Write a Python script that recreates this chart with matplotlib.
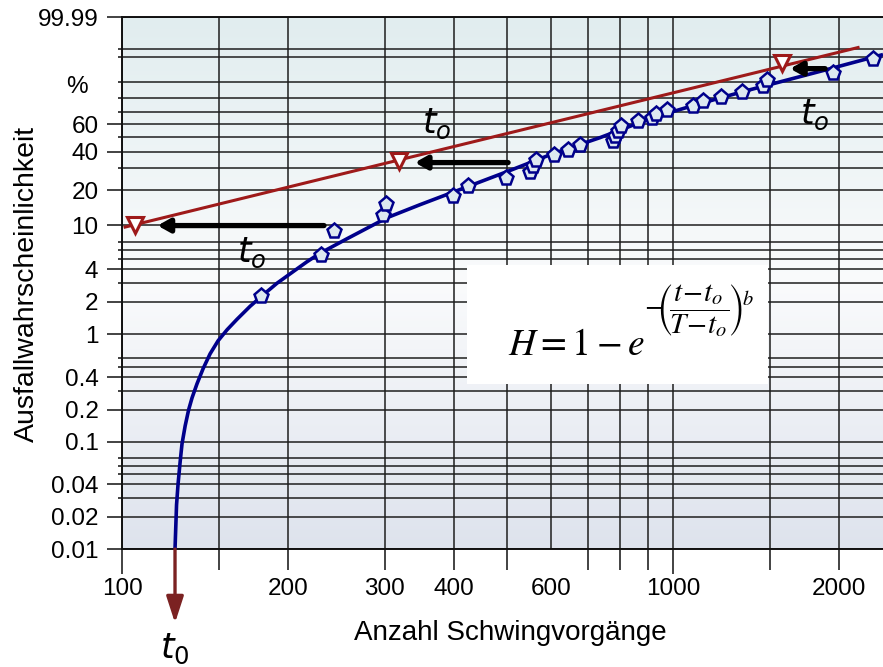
import numpy as np
import matplotlib
matplotlib.use("Agg")
import matplotlib.pyplot as plt
from matplotlib.ticker import FixedLocator, FixedFormatter, NullFormatter
from matplotlib.patches import Rectangle
from matplotlib.colors import LinearSegmentedColormap

# ---------------- data ----------------
# fitted 3-parameter Weibull curve (cycles, failure probability %)
curve_t = [124.8, 125.6, 126.4, 127.5, 128.5, 130.2, 132.1, 134.0, 136.8, 140.3,
           144.5, 149.4, 155.1, 161.7, 170.8, 180.5, 191.1, 204.3, 216.6, 228.8,
           256.1, 302.7, 347.4, 398.8, 499.7, 605.6, 737.1, 919.5, 1087, 1340,
           1903, 2405]
curve_F = [0.01, 0.0258, 0.0405, 0.065, 0.0956, 0.1407, 0.1985, 0.2569, 0.347,
           0.4789, 0.6605, 0.873, 1.104, 1.382, 1.823, 2.330, 2.973, 3.790, 4.677,
           5.591, 7.556, 11.61, 15.06, 19.23, 28.25, 38.66, 49.82, 65.36, 74.65,
           84.35, 94.91, 98.36]

# observed failures
obs_t = [179, 230, 243, 298, 301, 399, 425, 498, 550, 556, 564, 607, 644, 678,
         779, 785, 796, 804, 865, 915, 930, 977, 1089, 1132, 1221, 1333, 1457,
         1479, 1954, 2309]
obs_F = [2.25, 5.42, 8.78, 12.34, 15.36, 17.97, 21.78, 25.17, 27.89, 31.07,
         34.93, 38.02, 40.83, 44.75, 47.11, 50.80, 54.60, 58.49, 62.43, 65.13,
         68.51, 71.08, 74.65, 77.81, 80.89, 83.91, 87.71, 90.70, 93.75, 97.64]

# shifted (two-parameter) straight line and shifted points
red_t = [101.3, 2167]
red_F = [9.6, 99.16]
tri_t = [105.6, 318.6, 1575]
tri_F = [10.0, 33.9, 96.8]

# shift arrows
arrow_tail_t = [232.6, 502, 1888]
arrow_head_t = [116, 340, 1631]
arrow_F = [9.9, 33.2, 95.2]

# "t_o" annotations
to_label_t = [172, 373, 1810]
to_label_F = [5.6, 60.6, 67.7]

t0 = 124.8

y_major = [0.01, 0.02, 0.04, 0.1, 0.2, 0.4, 1, 2, 4, 10, 20, 40, 60, 99.99]
y_major_labels = ["0.01", "0.02", "0.04", "0.1", "0.2", "0.4", "1", "2", "4",
                  "10", "20", "40", "60", "99.99"]
y_minor = [0.03, 0.05, 0.06, 0.07, 0.3, 0.5, 0.6, 3, 5, 6, 7, 30, 50, 70, 80,
           90, 98, 99]
x_ticks = [100, 150, 200, 300, 400, 500, 600, 700, 800, 900, 1000, 1500, 2000]
x_labels = ["100", "", "200", "300", "400", "", "600", "", "", "", "1000", "", "2000"]

# ---------------- style ----------------
plt.rcParams["font.family"] = ["Liberation Sans", "DejaVu Sans"]
plt.rcParams["mathtext.fontset"] = "stix"

W, H = 883, 667
fig = plt.figure(figsize=(W / 100, H / 100), dpi=100)
L, R, T, B = 122, 883, 17, 549
pos = [L / W, 1 - B / H, (R - L) / W, (B - T) / H]

# gradient background (top: light teal, middle: near white, bottom: blue-grey)
bg = fig.add_axes(pos, zorder=0)
bg.axis("off")
cmap = LinearSegmentedColormap.from_list(
    "bg", [(0.0, "#e1edef"), (0.5, "#fafbfc"), (1.0, "#dee3ed")])
grad = np.linspace(0, 1, 256).reshape(-1, 1)
bg.imshow(grad, cmap=cmap, aspect="auto", extent=[0, 1, 0, 1], origin="upper")
bg.set_xlim(0, 1)
bg.set_ylim(0, 1)

ax = fig.add_axes(pos, zorder=1)
ax.set_facecolor("none")


def fwd(F):
    F = np.clip(np.asarray(F, dtype=float), 1e-9, 100 - 1e-9)
    return np.log(-np.log1p(-F / 100.0))


def inv(w):
    return 100.0 * (-np.expm1(-np.exp(np.asarray(w, dtype=float))))


ax.set_xscale("log")
ax.set_yscale("function", functions=(fwd, inv))
ax.set_xlim(100, 100 * 10 ** ((R - L) / 551.0))
ax.set_ylim(0.01, 99.99)

# ticks
ax.yaxis.set_major_locator(FixedLocator(y_major))
ax.yaxis.set_major_formatter(FixedFormatter(y_major_labels))
ax.yaxis.set_minor_locator(FixedLocator(y_minor))
ax.yaxis.set_minor_formatter(NullFormatter())
ax.xaxis.set_major_locator(FixedLocator(x_ticks))
ax.xaxis.set_major_formatter(FixedFormatter(x_labels))
ax.xaxis.set_minor_locator(FixedLocator([]))
ax.xaxis.set_minor_formatter(NullFormatter())

ax.tick_params(axis="y", which="major", length=11, width=1.2, pad=6,
               labelsize=17.5, color="#222222")
ax.tick_params(axis="y", which="minor", length=3, width=1.2, color="#222222")
ax.tick_params(axis="x", which="major", length=15, width=1.2, pad=6,
               labelsize=17.5, color="#222222")
for tk, v in zip(ax.xaxis.get_major_ticks(), x_ticks):
    if v in (100, 1000):
        tk.tick1line.set_markersize(18)
    if v == 600:
        tk.tick1line.set_markersize(0)

ax.set_axisbelow(True)
ax.grid(True, axis="y", which="both", color="#1e1e1e", lw=1.1)
ax.grid(True, axis="x", which="major", color="#1e1e1e", lw=1.1)

for s in ("left", "top", "bottom"):
    ax.spines[s].set_linewidth(1.4)
    ax.spines[s].set_color("#111111")
ax.spines["right"].set_visible(False)

# formula box (white, covers grid)
ax.add_patch(Rectangle(((467 - L) / (R - L), (B - 384) / (B - T)),
                       (768 - 467) / (R - L), (384 - 265) / (B - T),
                       transform=ax.transAxes, facecolor="white",
                       edgecolor="none", zorder=1))
ax.text((508 - L) / (R - L), (B - 355) / (B - T), r"$H=1-e$",
        transform=ax.transAxes, ha="left", va="baseline", fontsize=27,
        math_fontfamily="stix", zorder=6)
ax.text((644 - L) / (R - L), (B - 311) / (B - T),
        r"$-\!\!\left(\!\dfrac{t\!-\!t_o}{T\!-\!t_o}\!\right)^{\!b}$",
        transform=ax.transAxes, ha="left", va="center", fontsize=21,
        math_fontfamily="stix", zorder=6)

# curves and points
ax.plot(curve_t, curve_F, color="#00008b", lw=2.6, zorder=3,
        solid_capstyle="butt", solid_joinstyle="round")
ax.plot(obs_t, obs_F, linestyle="none", marker="p", ms=11, mfc="#dde8f0",
        mec="#00008b", mew=1.8, zorder=4)
ax.plot(red_t, red_F, color="#9e1a1a", lw=2.2, zorder=3)
ax.plot(tri_t, tri_F, linestyle="none", marker="v", ms=12, mfc="white",
        mec="#9e1a1a", mew=2.2, zorder=5)

for ht, tt, f in zip(arrow_head_t, arrow_tail_t, arrow_F):
    ax.annotate("", xy=(ht, f), xytext=(tt, f),
                arrowprops=dict(arrowstyle="-|>,head_length=0.5,head_width=0.28",
                                color="black", lw=3.8, mutation_scale=14,
                                shrinkA=0, shrinkB=0),
                zorder=5)

for lt, lf in zip(to_label_t, to_label_F):
    ax.text(lt, lf, r"$t_o$", ha="center", va="center", fontsize=25,
            math_fontfamily="dejavusans", zorder=6)

# t0 arrow below axis
ax.annotate("", xy=(t0, (B - 623) / (B - T)), xycoords=("data", "axes fraction"),
            xytext=(t0, 0.0), textcoords=("data", "axes fraction"),
            arrowprops=dict(arrowstyle="-|>,head_length=0.8,head_width=0.26",
                            color="#7b2222", lw=2.4, mutation_scale=20,
                            shrinkA=0, shrinkB=0),
            annotation_clip=False)
ax.text(t0, (B - 649) / (B - T), r"$t_0$", transform=ax.get_xaxis_transform(),
        ha="center", va="center", fontsize=25, math_fontfamily="dejavusans",
        clip_on=False)

# percent sign and axis labels
ax.text((77 - L) / (R - L), (B - 87) / (B - T), "%", transform=ax.transAxes,
        ha="center", va="center", fontsize=17.5)
ax.set_xlabel("Anzahl Schwingvorgänge", fontsize=20)
ax.xaxis.set_label_coords((510 - L) / (R - L), (B - 620) / (B - T))
fig.text(27 / W, 1 - 284 / H, "Ausfallwahrscheinlichkeit", rotation=90,
         ha="center", va="center", fontsize=20.5)

fig.savefig("out.png", dpi=100)
